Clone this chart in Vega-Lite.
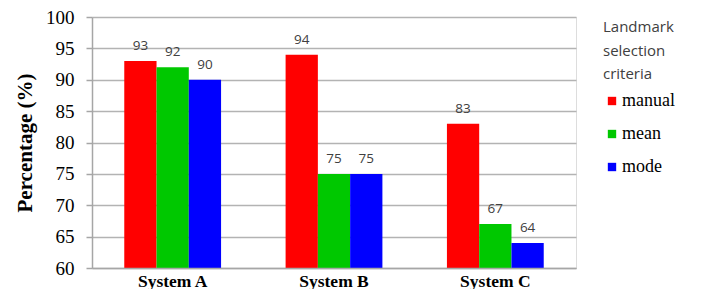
{
  "$schema": "https://vega.github.io/schema/vega-lite/v6.json",
  "width": 484,
  "height": 251,
  "autosize": {"type": "none"},
  "padding": {"left": 92, "top": 17, "right": 125, "bottom": 21},
  "background": "white",
  "data": {"values": [
    {"system": "System A", "criteria": "manual", "value": 93},
    {"system": "System A", "criteria": "mean", "value": 92},
    {"system": "System A", "criteria": "mode", "value": 90},
    {"system": "System B", "criteria": "manual", "value": 94},
    {"system": "System B", "criteria": "mean", "value": 75},
    {"system": "System B", "criteria": "mode", "value": 75},
    {"system": "System C", "criteria": "manual", "value": 83},
    {"system": "System C", "criteria": "mean", "value": 67},
    {"system": "System C", "criteria": "mode", "value": 64}
  ]},
  "encoding": {
    "x": {"field": "system", "type": "nominal", "scale": {"paddingInner": 0.4, "paddingOuter": 0.2},
      "axis": {"title": null, "labelAngle": 0, "labelFont": "Liberation Serif", "labelFontWeight": "bold", "labelFontSize": 17.5, "labelColor": "black", "ticks": false, "labelPadding": 4, "domainColor": "#a6a6a6", "domainWidth": 1.5, "zindex": 1}},
    "xOffset": {"field": "criteria", "type": "nominal"},
    "y": {"field": "value", "type": "quantitative", "scale": {"domain": [60, 100], "zero": false, "nice": false},
      "axis": {"title": "Percentage (%)", "titleFont": "Liberation Serif", "titleFontSize": 21, "titleFontWeight": "bold", "titleColor": "black", "titlePadding": 10,
        "values": [60, 65, 70, 75, 80, 85, 90, 95, 100], "labelFont": "Liberation Serif", "labelFontSize": 19, "labelColor": "black", "labelPadding": 12,
        "tickSize": 6, "tickColor": "#a6a6a6", "tickWidth": 1.5, "gridColor": "#b3b3b3", "gridWidth": 1.5, "domainColor": "#a6a6a6", "domainWidth": 1.5}}
  },
  "layer": [
    {
      "mark": {"type": "bar", "strokeWidth": 0, "clip": true},
      "encoding": {
        "y2": {"datum": 60},
        "color": {"field": "criteria", "type": "nominal",
          "scale": {"domain": ["manual", "mean", "mode"], "range": ["#ff0000", "#00c800", "#0000ff"]},
          "legend": {"title": ["Landmark", "selection", "criteria"], "orient": "right", "offset": 24, "padding": 3,
            "titleFont": "Open Sans", "titleFontSize": 15, "titleFontWeight": "normal", "titleColor": "#404040", "titleLineHeight": 23.5, "titlePadding": 10,
            "labelFont": "Liberation Serif", "labelFontSize": 18, "labelColor": "black", "labelOffset": 1,
            "symbolType": "square", "symbolSize": 70, "symbolStrokeWidth": 0, "rowPadding": 15}}
      }
    },
    {
      "mark": {"type": "text", "baseline": "bottom", "dy": -8, "font": "Open Sans", "fontSize": 13.5, "color": "#404040"},
      "encoding": {"text": {"field": "value", "type": "quantitative"}}
    }
  ]
}
